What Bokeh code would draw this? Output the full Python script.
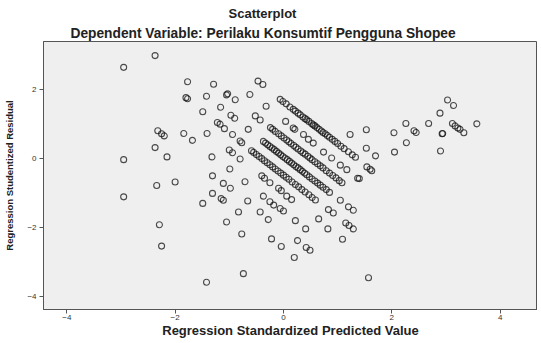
from bokeh.plotting import figure
from bokeh.models import Range1d, FixedTicker, Title, ColumnDataSource
from bokeh.embed import file_html
from bokeh.resources import INLINE

# ---------------- data ----------------
title_text = "Scatterplot"
subtitle_text = "Dependent Variable: Perilaku Konsumtif Pengguna Shopee"
x_label = "Regression Standardized Predicted Value"
y_label = "Regression Studentized Residual"
x_ticks = [-4, -2, 0, 2, 4]
y_ticks = [-4, -2, 0, 2]

left_x = [-2.95, -2.37, -1.77, -1.29, -1.42, -1.80, -1.77, -1.49, -2.32, -2.25,
          -2.20, -1.84, -1.41, -1.68, -2.37, -2.15, -2.95, -1.32, -1.31, -2.34,
          -2.00, -1.31, -2.95, -1.49, -2.29, -2.25, -1.42]
left_y = [2.64, 2.98, 2.22, 2.15, 1.80, 1.76, 1.73, 1.35, 0.80, 0.71,
          0.65, 0.72, 0.72, 0.52, 0.31, 0.04, -0.04, 0.04, -0.51, -0.79,
          -0.69, -1.02, -1.12, -1.31, -1.93, -2.55, -3.60]

mid_x = [-0.47, -0.38, -1.03, -1.05, -0.62, -0.89, -1.16, -0.32, -0.97, -0.90,
         -0.52, -0.43, 0.04, -1.22, -1.17, -1.09, -0.65, -0.94, -0.80, -0.77,
         -1.00, -0.94, -0.80, -0.99, -0.40, -0.35, -0.25, -0.09, -0.04, 0.06,
         0.15, -1.11, -0.98, -0.71, -1.15, -1.11, -0.66, -0.37, -0.25, -0.18,
         -0.06, 0.00, -0.83, -0.43, -0.28, 0.22, 0.65, 0.83, 0.92, 1.05,
         1.20, 1.29, 1.15, 1.21, 1.29, 0.82, 0.41, -1.05, -0.77, -0.22,
         -0.04, 0.26, 0.42, 0.49, 1.09, 0.20, -0.74, 1.57]
mid_y = [2.24, 2.14, 1.87, 1.84, 1.85, 1.70, 1.48, 1.51, 1.25, 1.16,
         1.23, 1.11, 1.07, 1.04, 0.99, 0.86, 0.84, 0.69, 0.50, 0.45,
         0.24, 0.16, -0.02, -0.31, -0.51, -0.58, -0.71, -0.87, -0.94, -1.10,
         -1.20, -0.73, -0.87, -0.68, -1.17, -1.22, -1.24, -1.10, -1.26, -1.36,
         -1.46, -1.53, -1.56, -1.56, -1.78, -1.81, -1.76, -1.49, -1.59, -1.22,
         -1.41, -1.51, -1.88, -1.95, -2.05, -2.05, -2.05, -1.85, -2.20, -2.34,
         -2.56, -2.39, -2.59, -2.67, -2.35, -2.88, -3.35, -3.47]

right_x = [1.23, 1.53, 1.53, 1.70, 1.54, 1.60, 1.63, 1.40, 3.03, 3.14,
           2.89, 2.26, 2.68, 3.12, 3.17, 3.22, 3.26, 3.33, 3.57, 2.04,
           2.41, 2.45, 2.93, 2.94, 2.27, 2.05, 2.90]
right_y = [0.69, 0.83, 0.29, 0.07, -0.25, -0.32, -0.36, -0.59, 1.69, 1.53,
           1.31, 1.01, 1.01, 1.01, 0.94, 0.88, 0.84, 0.74, 1.00, 0.74,
           0.80, 0.75, 0.71, 0.72, 0.45, 0.18, 0.21]

band0_x = [0.18, 0.21, 0.37, 0.46, 0.55, 0.74, 0.89, 1.05, 1.17, 1.37]
band0_y = [0.88, 0.84, 0.69, 0.55, 0.44, 0.18, 0.01, -0.20, -0.33, -0.58]

band1_x = [-0.06, -0.01, 0.05, 0.12, 0.18, 0.22, 0.27, 0.31, 0.36, 0.40,
           0.43, 0.47, 0.52, 0.55, 0.58, 0.62, 0.66, 0.70, 0.73, 0.77,
           0.81, 0.85, 0.90, 0.95, 1.00, 1.06, 1.12, 1.20, 1.27, 1.33]
band1_y = [1.71, 1.65, 1.58, 1.49, 1.42, 1.37, 1.31, 1.26, 1.20, 1.15,
           1.12, 1.07, 1.01, 0.97, 0.94, 0.89, 0.84, 0.79, 0.75, 0.71,
           0.66, 0.61, 0.55, 0.49, 0.43, 0.35, 0.28, 0.19, 0.10, 0.03]

band2_x = [-0.24, -0.20, -0.15, -0.09, -0.04, 0.01, 0.06, 0.10, 0.14, 0.19,
           0.23, 0.27, 0.32, 0.36, 0.40, 0.45, 0.49, 0.53, 0.58, 0.63,
           0.68, 0.73, 0.79, 0.85, 0.91, 0.97, 1.03, 1.08]
band2_y = [0.89, 0.84, 0.78, 0.71, 0.65, 0.59, 0.53, 0.48, 0.43, 0.37,
           0.32, 0.27, 0.21, 0.16, 0.12, 0.06, 0.01, -0.04, -0.10, -0.16,
           -0.22, -0.28, -0.36, -0.43, -0.50, -0.57, -0.65, -0.71]

band3_x = [-0.37, -0.33, -0.29, -0.25, -0.21, -0.17, -0.13, -0.09, -0.05, -0.01,
           0.03, 0.07, 0.11, 0.15, 0.19, 0.23, 0.27, 0.31, 0.35, 0.39,
           0.43, 0.48, 0.53, 0.58, 0.63, 0.68, 0.73, 0.79, 0.85]
band3_y = [0.49, 0.44, 0.39, 0.34, 0.30, 0.25, 0.20, 0.15, 0.10, 0.05,
           0.01, -0.04, -0.09, -0.14, -0.19, -0.24, -0.28, -0.33, -0.38, -0.43,
           -0.48, -0.54, -0.60, -0.66, -0.72, -0.78, -0.84, -0.91, -0.99]

band4_x = [-0.59, -0.55, -0.50, -0.45, -0.40, -0.35, -0.30, -0.25, -0.20, -0.15,
           -0.10, -0.05, 0.00, 0.05, 0.10, 0.16, 0.22, 0.28, 0.34, 0.40,
           0.47, 0.53, 0.59]
band4_y = [0.22, 0.17, 0.11, 0.05, -0.01, -0.07, -0.13, -0.19, -0.25, -0.31,
           -0.37, -0.43, -0.49, -0.55, -0.61, -0.69, -0.76, -0.83, -0.91, -0.98,
           -1.06, -1.14, -1.21]

pred = left_x + mid_x + right_x + band0_x + band1_x + band2_x + band3_x + band4_x
resid = left_y + mid_y + right_y + band0_y + band1_y + band2_y + band3_y + band4_y

# ---------------- figure ----------------
FONT = "Liberation Sans"

p = figure(width=537, height=340, output_backend="svg", toolbar_location=None,
           x_range=Range1d(-4.43, 4.69), y_range=Range1d(-4.39, 3.39),
           min_border_left=43, min_border_right=0, min_border_top=41,
           min_border_bottom=30)

p.background_fill_color = "#EFEFEF"
p.border_fill_color = "white"
p.outline_line_color = "#555555"
p.outline_line_width = 1
p.xgrid.visible = False
p.ygrid.visible = False

sub = Title(text=subtitle_text, align="left", offset=27,
            text_font=FONT, text_font_size="13.75px", text_font_style="bold",
            text_color="#222222", standoff=2)
p.add_layout(sub, "above")
main = Title(text=title_text, align="left", offset=185,
             text_font=FONT, text_font_size="13px", text_font_style="bold",
             text_color="#222222", standoff=3)
p.add_layout(main, "above")

src = ColumnDataSource(data=dict(x=pred, y=resid))
p.scatter("x", "y", source=src, marker="circle", size=6, fill_color=None,
          line_color="#111111", line_alpha=0.75, line_width=1.1)

for ax in (p.xaxis[0], p.yaxis[0]):
    ax.axis_line_color = "#555555"
    ax.major_tick_line_color = "#555555"
    ax.major_tick_out = 4
    ax.major_tick_in = 0
    ax.minor_tick_line_color = None
    ax.major_label_text_font = FONT
    ax.major_label_text_font_size = "8px"
    ax.major_label_text_color = "#333333"
    ax.axis_label_text_font_style = "bold"
    ax.axis_label_text_color = "#222222"
    ax.axis_label_text_font = FONT

p.xaxis[0].ticker = FixedTicker(ticks=x_ticks)
p.yaxis[0].ticker = FixedTicker(ticks=y_ticks)
p.yaxis[0].major_label_orientation = "horizontal"
p.xaxis[0].major_label_standoff = 1
p.yaxis[0].major_label_standoff = 3

p.xaxis[0].axis_label = x_label
p.xaxis[0].axis_label_text_font_size = "13px"
p.xaxis[0].axis_label_standoff = 0

p.yaxis[0].axis_label = y_label
p.yaxis[0].axis_label_text_font_size = "9.5px"
p.yaxis[0].axis_label_standoff = 9

open("out.html", "w").write(file_html(p, INLINE))
